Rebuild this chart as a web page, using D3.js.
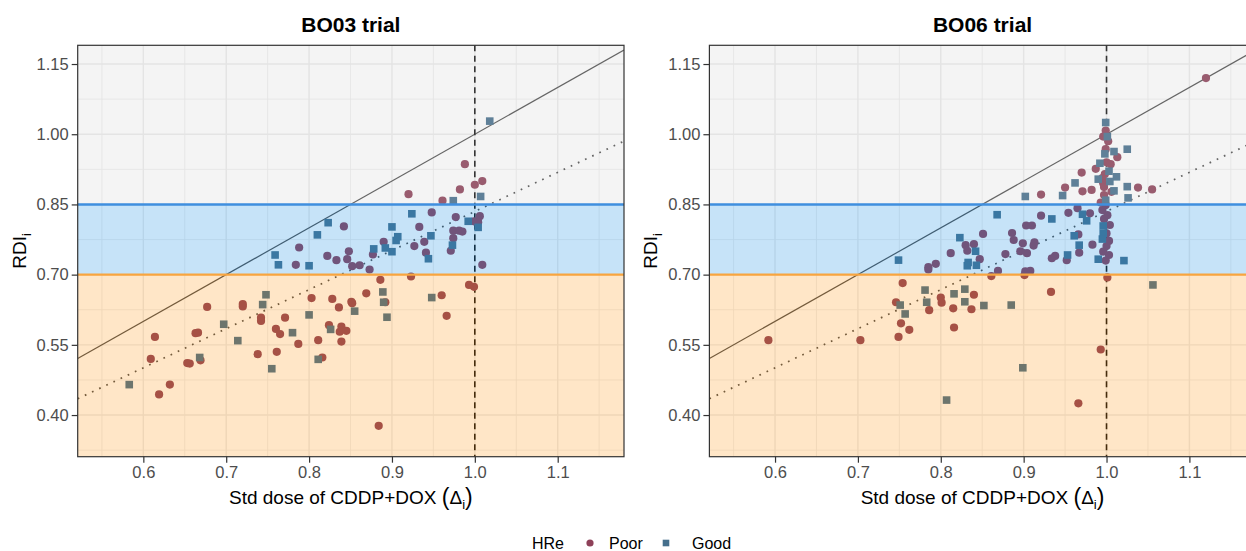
<!DOCTYPE html>
<html><head><meta charset="utf-8">
<script src="https://cdn.jsdelivr.net/npm/d3@7"></script>
<style>
body{margin:0;background:#fff;overflow:hidden;}
svg{display:block;font-family:"Liberation Sans",Arial,Helvetica,sans-serif;}
</style>
</head><body>
<svg id="chart" width="1246" height="551"></svg>
<script>
// ---------------- data ----------------
const panelTitles = ["BO03 trial", "BO06 trial"];
const xTicks = [0.6, 0.7, 0.8, 0.9, 1.0, 1.1];
const yTicks = [0.40, 0.55, 0.70, 0.85, 1.00, 1.15];
const xMinor = [0.55, 0.65, 0.75, 0.85, 0.95, 1.05, 1.15];
const yMinor = [0.325, 0.475, 0.625, 0.775, 0.925, 1.075];
const groups = ["Poor", "Good"];
const thresholds = [0.70, 0.85];
const dottedSlope = 0.835;

const bo03Poor = [
  [0.988,0.936],[1.000,0.892],[1.009,0.900],[0.982,0.882],[0.920,0.872],[0.961,0.858],
  [0.842,0.803],[0.948,0.833],[0.933,0.802],[0.977,0.823],[0.999,0.814],[1.004,0.812],[1.006,0.825],
  [0.974,0.794],[0.981,0.794],[0.985,0.792],[0.974,0.778],[0.971,0.751],[0.939,0.770],[0.927,0.761],
  [0.941,0.747],[0.890,0.770],[0.877,0.743],[0.873,0.711],[0.861,0.720],[0.852,0.718],[0.846,0.733],
  [0.848,0.750],[0.833,0.731],[0.822,0.740],[0.788,0.758],[0.784,0.721],[1.009,0.721],
  [0.886,0.689],[0.923,0.696],[0.993,0.678],[0.999,0.674],[0.869,0.660],[0.960,0.656],[0.828,0.648],
  [0.851,0.642],[0.852,0.639],[0.892,0.641],[0.836,0.630],[0.966,0.612],[0.824,0.592],[0.839,0.589],
  [0.837,0.578],[0.845,0.580],[0.839,0.557],[0.811,0.560],[0.816,0.523],[0.803,0.650],[0.720,0.637],
  [0.720,0.632],[0.677,0.631],[0.742,0.608],[0.742,0.601],[0.771,0.608],[0.760,0.584],[0.765,0.573],
  [0.787,0.552],[0.663,0.575],[0.666,0.576],[0.614,0.567],[0.738,0.530],[0.761,0.535],[0.669,0.517],
  [0.609,0.520],[0.653,0.511],[0.656,0.510],[0.632,0.465],[0.619,0.444],[0.884,0.377]
];
const bo03Good = [
  [1.018,1.028],[0.974,0.858],[1.007,0.867],[0.823,0.811],[0.810,0.785],[0.924,0.830],[0.900,0.802],
  [0.992,0.814],[1.004,0.801],[0.973,0.763],[0.947,0.783],[0.944,0.734],[0.907,0.781],[0.905,0.773],
  [0.900,0.749],[0.892,0.757],[0.878,0.755],[0.759,0.742],[0.763,0.721],[0.800,0.719],
  [0.748,0.657],[0.744,0.636],[0.697,0.594],[0.800,0.614],[0.780,0.576],[0.714,0.559],[0.668,0.523],
  [0.811,0.519],[0.755,0.499],[0.583,0.465],[0.889,0.663],[0.948,0.651],[0.890,0.641],[0.855,0.622],
  [0.894,0.609],[0.826,0.583]
];
const bo06Poor = [
  [1.120,1.120],[0.999,1.008],[0.996,0.995],[1.002,0.985],[0.999,0.968],[1.013,0.951],[1.000,0.940],
  [1.005,0.936],[0.987,0.926],[0.970,0.918],[0.998,0.915],[0.995,0.906],[0.996,0.895],[0.950,0.886],
  [0.971,0.878],[0.982,0.881],[0.997,0.887],[0.997,0.870],[1.006,0.877],[1.038,0.886],[1.055,0.882],
  [0.921,0.871],[0.993,0.854],
  [0.921,0.826],[0.954,0.832],[0.965,0.842],[0.980,0.831],[0.995,0.838],[0.999,0.849],[1.001,0.827],
  [0.997,0.819],[1.004,0.806],[1.000,0.788],[1.003,0.772],[1.000,0.761],[0.996,0.749],[1.003,0.742],
  [0.999,0.730],[0.983,0.764],[0.966,0.786],[0.967,0.747],[0.952,0.731],[0.938,0.740],[0.934,0.735],
  [0.913,0.769],[0.912,0.762],[0.904,0.746],[0.896,0.750],[0.899,0.767],[0.903,0.805],[0.910,0.805],
  [0.886,0.789],[0.888,0.774],[0.878,0.744],[0.869,0.708],[0.902,0.707],[0.908,0.708],[0.851,0.787],
  [0.847,0.733],[0.840,0.765],[0.830,0.763],[0.832,0.751],[0.812,0.746],[0.794,0.723],[0.785,0.716],
  [0.785,0.711],
  [0.861,0.697],[0.901,0.699],[1.001,0.694],[0.933,0.663],[0.840,0.657],[0.800,0.651],[0.801,0.640],
  [0.815,0.628],[0.837,0.626],[0.816,0.587],[0.993,0.540],[0.966,0.425],[0.754,0.682],[0.746,0.641],
  [0.786,0.624],[0.752,0.596],[0.762,0.582],[0.749,0.567],[0.592,0.560],[0.703,0.560]
];
const bo06Good = [
  [0.999,1.025],[1.001,0.995],[0.998,0.958],[1.009,0.963],[1.025,0.968],[0.992,0.938],[1.003,0.921],
  [1.012,0.909],[0.990,0.904],[1.004,0.899],[0.962,0.896],[1.009,0.879],[1.025,0.888],[1.026,0.864],
  [0.947,0.869],[0.902,0.867],[0.999,0.859],
  [0.868,0.828],[0.934,0.819],[0.971,0.829],[0.976,0.815],[0.996,0.804],[0.996,0.788],[0.995,0.776],
  [0.990,0.733],[1.021,0.730],[0.961,0.783],[0.967,0.763],[0.953,0.742],[0.842,0.750],[0.823,0.779],
  [0.833,0.726],[0.832,0.719],[0.843,0.720],[0.749,0.731],
  [1.056,0.678],[0.829,0.669],[0.816,0.659],[0.829,0.642],[0.852,0.634],[0.885,0.635],[0.899,0.501],
  [0.807,0.432],[0.781,0.667],[0.751,0.635],[0.783,0.641],[0.757,0.616]
];
const panelData = [[bo03Poor, bo03Good], [bo06Poor, bo06Good]];

// ---------------- style / layout ----------------
const colors = {Poor: "#8e4159", Good: "#456f8c"};
const W = 1246, H = 551;
const panelW = 546.3, pTop = 45.3, pBottom = 456.7;
const panelLefts = [77.7, 709.4];
const xDomain = [0.5208, 1.18];
const yDomain = [0.311, 1.19];

const svg = d3.select("#chart");
svg.append("rect").attr("width", W).attr("height", H).attr("fill", "#fff");

const defs = svg.append("defs");

panelTitles.forEach((title, pi) => {
  const x0 = panelLefts[pi];
  const x = d3.scaleLinear().domain(xDomain).range([x0, x0 + panelW]);
  const y = d3.scaleLinear().domain(yDomain).range([pBottom, pTop]);
  const clipId = "clip" + pi;
  defs.append("clipPath").attr("id", clipId).append("rect")
    .attr("x", x0).attr("y", pTop).attr("width", panelW).attr("height", pBottom - pTop);

  const g = svg.append("g");
  const inner = g.append("g").attr("clip-path", `url(#${clipId})`);
  inner.append("rect").attr("x", x0).attr("y", pTop).attr("width", panelW).attr("height", pBottom - pTop).attr("fill", "#fff");

  // minor grid
  inner.selectAll(".vmin").data(xMinor).join("line")
    .attr("x1", d => x(d)).attr("x2", d => x(d)).attr("y1", pTop).attr("y2", pBottom)
    .attr("stroke", "#ebebeb").attr("stroke-width", 0.8);
  inner.selectAll(".hmin").data(yMinor).join("line")
    .attr("x1", x0).attr("x2", x0 + panelW).attr("y1", d => y(d)).attr("y2", d => y(d))
    .attr("stroke", "#ebebeb").attr("stroke-width", 0.8);
  // major grid
  inner.selectAll(".vmaj").data(xTicks).join("line")
    .attr("x1", d => x(d)).attr("x2", d => x(d)).attr("y1", pTop).attr("y2", pBottom)
    .attr("stroke", "#ebebeb").attr("stroke-width", 1.4);
  inner.selectAll(".hmaj").data(yTicks).join("line")
    .attr("x1", x0).attr("x2", x0 + panelW).attr("y1", d => y(d)).attr("y2", d => y(d))
    .attr("stroke", "#ebebeb").attr("stroke-width", 1.4);

  // reference lines
  inner.append("line")
    .attr("x1", x(xDomain[0])).attr("y1", y(xDomain[0]))
    .attr("x2", x(xDomain[1])).attr("y2", y(xDomain[1]))
    .attr("stroke", "#4d4d4d").attr("stroke-width", 1.2);
  inner.append("line")
    .attr("x1", x(xDomain[0])).attr("y1", y(dottedSlope * xDomain[0]))
    .attr("x2", x(xDomain[1])).attr("y2", y(dottedSlope * xDomain[1]))
    .attr("stroke", "#4d4d4d").attr("stroke-width", 1.7).attr("stroke-dasharray", "1.7,6.2");
  inner.append("line")
    .attr("x1", x(1)).attr("x2", x(1)).attr("y1", pTop).attr("y2", pBottom)
    .attr("stroke", "#111").attr("stroke-width", 1.6).attr("stroke-dasharray", "6,4.5");

  // points
  const [poor, good] = panelData[pi];
  inner.selectAll(".poor").data(poor).join("circle")
    .attr("cx", d => x(d[0])).attr("cy", d => y(d[1])).attr("r", 4.1)
    .attr("fill", colors.Poor);
  const s = 7.6;
  inner.selectAll(".good").data(good).join("rect")
    .attr("x", d => x(d[0]) - s / 2).attr("y", d => y(d[1]) - s / 2)
    .attr("width", s).attr("height", s).attr("fill", colors.Good);

  // translucent bands over everything
  const bandDefs = [
    {lo: thresholds[1], hi: yDomain[1], fill: "#c8c8c8", op: 0.2},
    {lo: thresholds[0], hi: thresholds[1], fill: "#1a8fe3", op: 0.25},
    {lo: yDomain[0], hi: thresholds[0], fill: "#ff8c00", op: 0.22}
  ];
  inner.selectAll(".band").data(bandDefs).join("rect")
    .attr("x", x0).attr("width", panelW)
    .attr("y", d => y(d.hi)).attr("height", d => y(d.lo) - y(d.hi))
    .attr("fill", d => d.fill).attr("fill-opacity", d => d.op);

  // threshold lines
  inner.append("line").attr("x1", x0).attr("x2", x0 + panelW)
    .attr("y1", y(thresholds[1])).attr("y2", y(thresholds[1]))
    .attr("stroke", "#3f8fdf").attr("stroke-width", 2.4);
  inner.append("line").attr("x1", x0).attr("x2", x0 + panelW)
    .attr("y1", y(thresholds[0])).attr("y2", y(thresholds[0]))
    .attr("stroke", "#f8a53f").attr("stroke-width", 2.4);

  // border
  g.append("rect").attr("x", x0).attr("y", pTop).attr("width", panelW).attr("height", pBottom - pTop)
    .attr("fill", "none").attr("stroke", "#333").attr("stroke-width", 1.2);

  // axes
  const xAxis = g.append("g").attr("transform", `translate(0,${pBottom})`)
    .call(d3.axisBottom(x).tickValues(xTicks).tickFormat(d3.format(".1f")).tickSize(6).tickPadding(4));
  const yAxis = g.append("g").attr("transform", `translate(${x0},0)`)
    .call(d3.axisLeft(y).tickValues(yTicks).tickFormat(d3.format(".2f")).tickSize(6).tickPadding(3));
  [xAxis, yAxis].forEach(a => {
    a.select(".domain").remove();
    a.selectAll(".tick line").attr("stroke", "#333").attr("stroke-width", 1.2);
    a.selectAll(".tick text").attr("fill", "#4d4d4d").style("font-size", "16.5px")
      .style("font-family", '"Liberation Sans",Arial,sans-serif');
  });

  const cx = x0 + panelW / 2;
  // title
  g.append("text").attr("x", cx).attr("y", 31.5).attr("text-anchor", "middle")
    .style("font-size", "21px").style("font-weight", "bold").attr("fill", "#000").text(title);

  // x-axis title
  const xt = g.append("text").attr("x", cx).attr("y", 504).attr("text-anchor", "middle")
    .style("font-size", "19px").attr("fill", "#000");
  xt.append("tspan").text("Std dose of CDDP+DOX ");
  xt.append("tspan").style("font-size", "23px").attr("dy", 1).text("(");
  xt.append("tspan").style("font-size", "19px").attr("dy", -1).text("Δ");
  xt.append("tspan").style("font-size", "13px").attr("dy", 5).text("i");
  xt.append("tspan").style("font-size", "23px").attr("dy", -4).text(")");

  // y-axis title
  const yt = g.append("text").attr("transform", `translate(${x0 - 52},${(pTop + pBottom) / 2}) rotate(-90)`)
    .attr("text-anchor", "middle").style("font-size", "19px").attr("fill", "#000");
  yt.append("tspan").text("RDI");
  yt.append("tspan").style("font-size", "13px").attr("dy", 5).text("i");
});

// legend
const leg = svg.append("g");
leg.append("text").attr("x", 532).attr("y", 549).style("font-size", "16px").attr("fill", "#000").text("HRe");
leg.append("circle").attr("cx", 590).attr("cy", 543).attr("r", 3.6).attr("fill", colors.Poor);
leg.append("text").attr("x", 609).attr("y", 549).style("font-size", "16px").attr("fill", "#000").text(groups[0]);
leg.append("rect").attr("x", 662.7).attr("y", 539.7).attr("width", 6.6).attr("height", 6.6).attr("fill", colors.Good);
leg.append("text").attr("x", 692).attr("y", 549).style("font-size", "16px").attr("fill", "#000").text(groups[1]);
</script>
</body></html>
